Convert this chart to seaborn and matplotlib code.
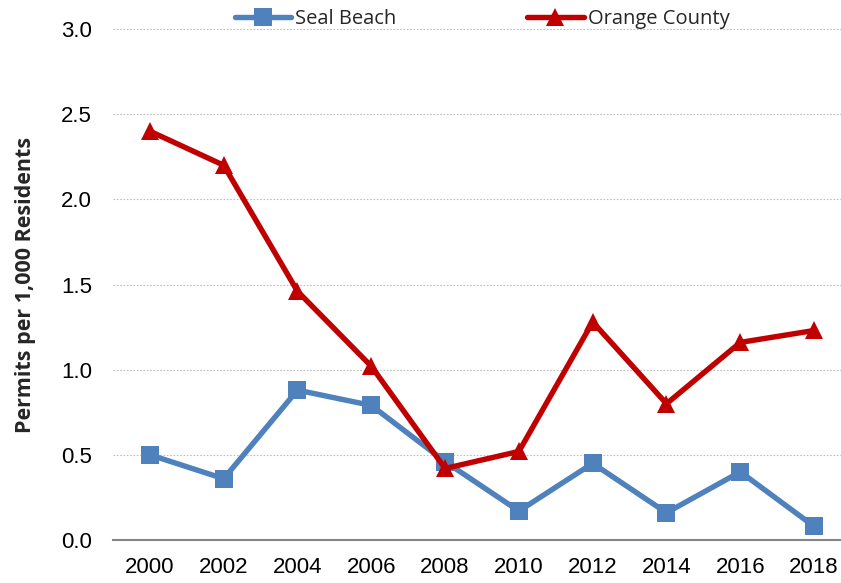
import matplotlib
matplotlib.use("Agg")
import matplotlib.pyplot as plt
import seaborn as sns
import pandas as pd

years = [2000, 2002, 2004, 2006, 2008, 2010, 2012, 2014, 2016, 2018]
seal_beach = [0.50, 0.36, 0.88, 0.79, 0.46, 0.17, 0.45, 0.16, 0.40, 0.08]
orange_county = [2.40, 2.20, 1.46, 1.02, 0.42, 0.52, 1.28, 0.80, 1.16, 1.23]
series_names = ["Seal Beach", "Orange County"]
y_ticks = [0.0, 0.5, 1.0, 1.5, 2.0, 2.5, 3.0]

df = pd.DataFrame({
    "Year": years * 2,
    "Value": seal_beach + orange_county,
    "Series": [series_names[0]] * len(years) + [series_names[1]] * len(years),
})

sns.set_theme(style="white")
plt.rcParams["font.family"] = ["Liberation Sans", "DejaVu Sans"]

fig = plt.figure(figsize=(8.41, 5.83), dpi=100)
ax = fig.add_axes([113 / 841, 1 - 540 / 583, (851 - 113) / 841, (540 - 29) / 583])

colors = {"Seal Beach": "#4F81BD", "Orange County": "#C00000"}
markers = {"Seal Beach": "s", "Orange County": "^"}
sizes = {"Seal Beach": 13, "Orange County": 13.5}

for name in series_names:
    sub = df[df["Series"] == name]
    sns.lineplot(data=sub, x="Year", y="Value", ax=ax, color=colors[name],
                 marker=markers[name], markersize=sizes[name], linewidth=3.9,
                 markeredgewidth=0, label=name, zorder=3 if name == "Orange County" else 2)

ax.set_xlim(1999, 2019)
ax.set_ylim(0, 3.0)
ax.set_xticks(years)
ax.set_xticklabels([str(y) for y in years], fontsize=16)
ax.set_yticks(y_ticks)
ax.set_yticklabels([f"{v:.1f}" for v in y_ticks], fontsize=16)
ax.tick_params(axis="both", length=0, colors="black")
ax.tick_params(axis="x", pad=12)
ax.tick_params(axis="y", pad=15)
ax.set_xlabel("")
ax.set_ylabel("Permits per 1,000 Residents", fontsize=15.5, fontweight="bold",
              family=["Open Sans", "DejaVu Sans"], labelpad=18)

for v in y_ticks[1:]:
    ax.axhline(v, color="#BFBFBF", linewidth=0.8, linestyle=(0, (1.5, 1.5)), zorder=1)
for s in ["top", "right", "left"]:
    ax.spines[s].set_visible(False)
ax.spines["bottom"].set_color("#868686")
ax.spines["bottom"].set_linewidth(1.5)

leg = ax.legend(loc="lower center", bbox_to_anchor=(0.5, 0.985), ncol=2, frameon=False,
                prop={"family": ["Open Sans", "DejaVu Sans"], "size": 14.5},
                handlelength=2.8, columnspacing=6.5, borderaxespad=0, handletextpad=0.2,
                markerscale=0.95)

fig.savefig("out.png", dpi=100)
